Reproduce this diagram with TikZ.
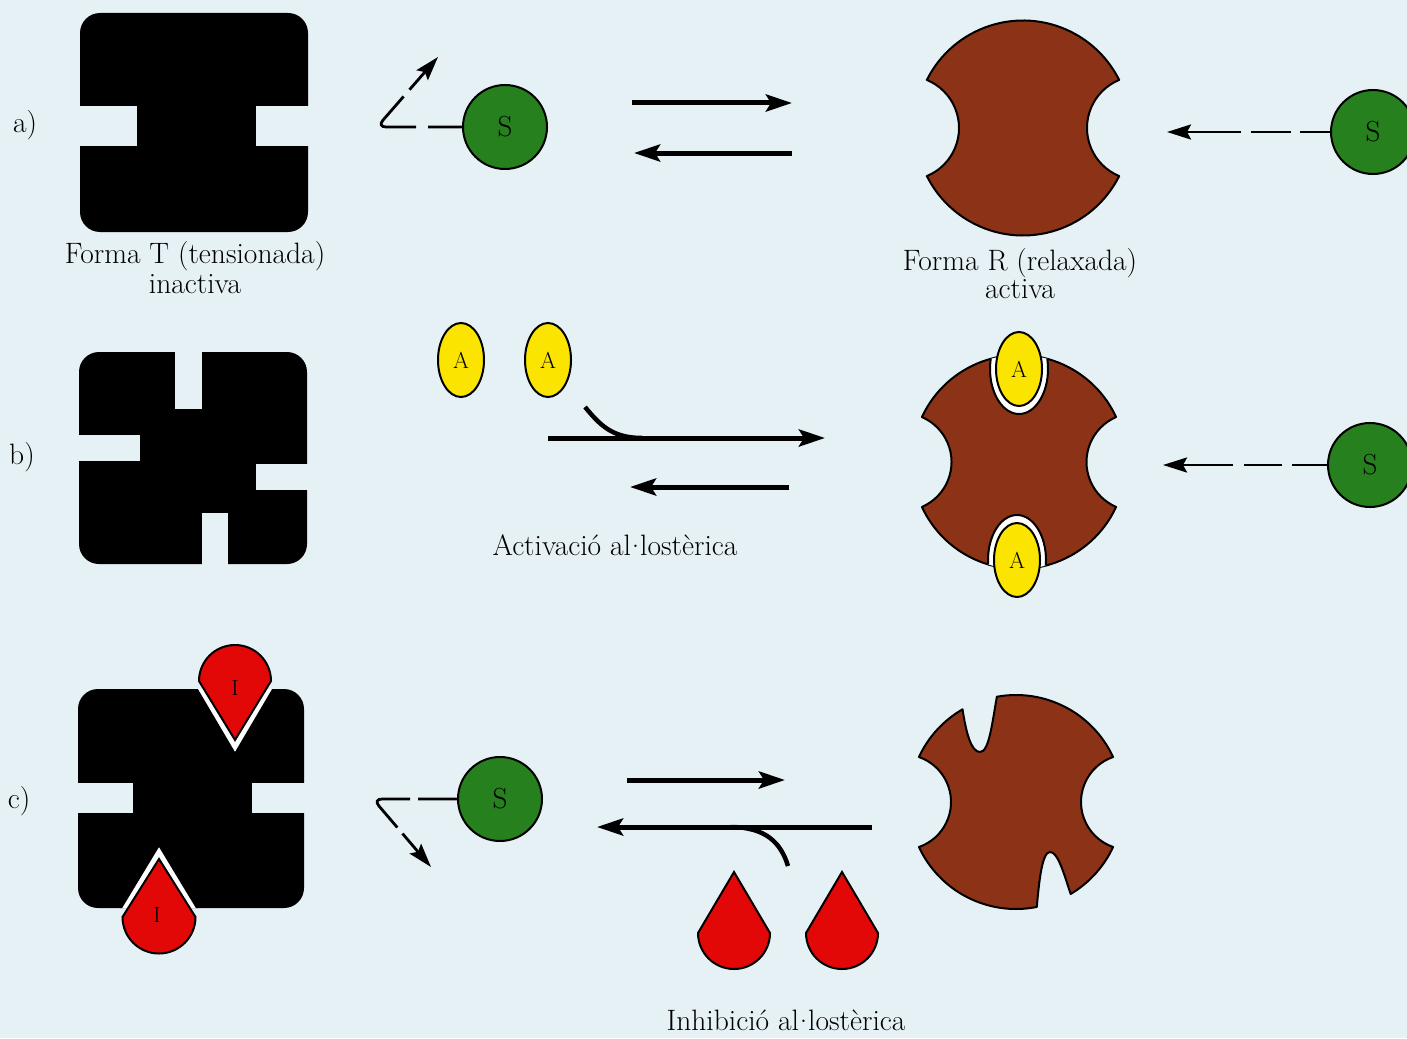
\documentclass[tikz,border=0pt]{standalone}
\usepackage{fontspec}
\usetikzlibrary{arrows.meta,shapes.geometric}

\definecolor{paper}{RGB}{230,241,246}
\definecolor{rbrown}{RGB}{140,50,22}
\definecolor{sgreen}{RGB}{38,128,30}
\definecolor{ayellow}{RGB}{250,228,0}
\definecolor{ired}{RGB}{226,8,8}

% corners of a relaxed form: outer radius #1, bite centre offset #2, bite radius #3
% (computed in hundreds to keep the numbers small)
\newcommand{\rformcalc}[3]{%
  \pgfmathsetmacro{\rfx}{100*((#1/100)^2-(#3/100)^2+(#2/100)^2)/(2*#2/100)}%
  \pgfmathsetmacro{\rfy}{100*sqrt((#1/100)^2-(\rfx/100)^2)}%
  \pgfmathsetmacro{\rfphi}{atan2(\rfy,\rfx)}%
  \pgfmathsetmacro{\rfpsi}{atan2(\rfy,\rfx-#2)}%
}
% outline of a relaxed form around the origin: outer radius #1, bite radius #2
\newcommand{\rformpath}[2]{%
  (180+\rfphi:#1) arc[start angle=180+\rfphi, end angle=360-\rfphi, radius=#1]
  arc[start angle=360-\rfpsi, end angle=\rfpsi, radius=#2]
  arc[start angle=\rfphi, end angle=180-\rfphi, radius=#1]
  arc[start angle=180-\rfpsi, end angle=\rfpsi-180, radius=#2] -- cycle}

% drop (triangle on a half disc): style, centre x, centre y, radius, tip distance, tip direction
\newcommand{\inhdrop}[6]{%
  \pgfmathsetmacro{\dps}{#6+90}%
  \pgfmathsetmacro{\dpe}{#6+270}%
  \path[#1, shift={(#2,#3)}] (#6:#5) -- (\dps:#4)
    arc[start angle=\dps, end angle=\dpe, radius=#4] -- cycle;
}
% the middle dot of the Catalan l.l
\newcommand{\geminada}{\kern0.03em\raisebox{0.24em}{.}\kern0.03em}

\tikzset{
  every node/.style={inner sep=0pt, outer sep=0pt},
  lbl/.style={font=\fontsize{29.5}{32}\selectfont, anchor=base},
  tbody/.style={fill=black, rounded corners=20pt},
  notch/.style={fill=paper},
  rform/.style={fill=rbrown, draw=black, line width=2pt, line join=round},
  ring/.style={fill=white, draw=black, line width=2pt},
  substrate/.style={circle, draw=black, line width=2pt, fill=sgreen,
    minimum size=84pt, font=\fontsize{29}{30}\selectfont},
  activator/.style={ellipse, draw=black, line width=2pt, fill=ayellow,
    minimum width=46pt, minimum height=74pt, font=\fontsize{23}{24}\selectfont},
  inhibitor/.style={fill=ired, draw=black, line width=2pt, miter limit=20},
  ilbl/.style={font=\fontsize{22}{24}\selectfont},
  eqarrow/.style={line width=5pt, -{Stealth[length=26pt, width=17pt, inset=5pt]}},
  feeder/.style={line width=4.5pt},
  bindarrow/.style={line width=2.8pt, -{Stealth[length=24pt, width=15pt, inset=4pt]}},
}

\begin{document}
\begin{tikzpicture}[x=1pt, y=-1pt]
\fill[paper] (0,0) rectangle (1407,1038);
\useasboundingbox (0,0) rectangle (1407,1038);
\clip (0,0) rectangle (1407,1038);

% ---------------- a) ----------------
\node[lbl] (la) at (25,132) {a)};
\fill[tbody] (80,13) rectangle (308,232);
\fill[notch] (74,106) rectangle (137,146);
\fill[notch] (256,106) rectangle (314,146);
\node[lbl] (Ta1) at (195,263) {Forma T (tensionada)};
\node[lbl] (Ta2) at (195,293) {inactiva};

\node[substrate] (Sa) at (505,127) {S};
\coordinate (Sabend) at (377,127);
\coordinate (Saout) at (438,57);
\draw[bindarrow, rounded corners=9pt,
  dash pattern=on 35pt off 12pt on 72pt off 9pt on 200pt]
  (Sa.west) -- (Sabend) -- (Saout);

\coordinate (a1s) at (632,103); \coordinate (a1e) at (792,103);
\coordinate (a2s) at (792,153); \coordinate (a2e) at (634,153);
\draw[eqarrow] (a1s) -- (a1e);
\draw[eqarrow] (a2s) -- (a2e);

\begin{scope}[shift={(1023,128)}]
  \rformcalc{107.5}{116}{52}
  \filldraw[rform] \rformpath{107.5}{52};
\end{scope}
\node[lbl] (Ra1) at (1020,270) {Forma R (relaxada)};
\node[lbl] (Ra2) at (1020,298) {activa};

\node[substrate] (Sa2) at (1373,132) {S};
\coordinate (Sa2end) at (1167,132);
\draw[bindarrow, dash pattern=on 31pt off 9pt on 40pt off 10pt on 200pt]
  (Sa2.west) -- (Sa2end);

% ---------------- b) ----------------
\node[lbl] (lb) at (22,464) {b)};
\fill[tbody] (79,352) rectangle (307,564);
\fill[notch] (175,346) rectangle (202,409);
\fill[notch] (73,435) rectangle (140,461);
\fill[notch] (256,464) rectangle (313,490);
\fill[notch] (202,513) rectangle (228,570);

\node[activator] (A1) at (461,360) {A};
\node[activator] (A2) at (548,360) {A};

\coordinate (b1s) at (548,438); \coordinate (b1e) at (825,438);
\coordinate (b2s) at (789,487); \coordinate (b2e) at (630,487);
\coordinate (bfeed) at (585,407); \coordinate (bjoin) at (642,438);
\draw[eqarrow] (b1s) -- (b1e);
\draw[eqarrow] (b2s) -- (b2e);
\draw[feeder] (bfeed) .. controls (600,425) and (612,438) .. (bjoin);
\node[lbl] (actcap) at (615,555) {Activació al\geminada lostèrica};

\begin{scope}[shift={(1019,462)}]
  \rformcalc{107}{116.4}{48.9}
  \filldraw[rform] \rformpath{107}{48.9};
  \begin{scope}
    \clip \rformpath{107}{48.9};
    \draw[ring] (0,-93) ellipse[x radius=29, y radius=45];
    \draw[ring] (-2,98) ellipse[x radius=29, y radius=45];
  \end{scope}
\end{scope}
\node[activator] (Ab1) at (1019,369) {A};
\node[activator] (Ab2) at (1017,560) {A};

\node[substrate] (Sb) at (1370,465) {S};
\coordinate (Sbend) at (1163,465);
\draw[bindarrow, dash pattern=on 36pt off 10pt on 38pt off 11pt on 200pt]
  (Sb.west) -- (Sbend);

% ---------------- c) ----------------
\node[lbl] (lc) at (19,808) {c)};
\fill[tbody] (78,689) rectangle (304,908);
\fill[notch] (72,783) rectangle (133,813);
\fill[notch] (252,783) rectangle (310,813);
\begin{scope}
  \clip[rounded corners=20pt] (78,689) rectangle (304,908);
  \inhdrop{ring}{235}{681}{43}{73}{90}
  \inhdrop{ring}{159}{917}{43.5}{72}{270}
\end{scope}
\inhdrop{inhibitor}{235}{681}{36}{59}{90}
\inhdrop{inhibitor}{159}{917}{36.5}{58}{270}
\node[ilbl] (I1) at (235,688) {I};
\node[ilbl] (I2) at (157,915) {I};

\node[substrate] (Sc) at (500,799) {S};
\coordinate (Scbend) at (373,799);
\coordinate (Scout) at (431,867);
\draw[bindarrow, rounded corners=9pt,
  dash pattern=on 40pt off 8pt on 67pt off 8pt on 200pt]
  (Sc.west) -- (Scbend) -- (Scout);

\coordinate (c1s) at (627,780); \coordinate (c1e) at (785,780);
\coordinate (c2s) at (872,827); \coordinate (c2e) at (597,827);
\coordinate (cfeed) at (788,866); \coordinate (cjoin) at (730,827);
\draw[eqarrow] (c1s) -- (c1e);
\draw[eqarrow] (c2s) -- (c2e);
\draw[feeder] (cfeed) .. controls (781,843) and (766,827) .. (cjoin);

\inhdrop{inhibitor}{734}{933}{36}{61}{270}
\inhdrop{inhibitor}{842}{933}{36}{61}{270}

\begin{scope}[shift={(1016,802)}]
  \rformcalc{107}{112.6}{47.6}
  \filldraw[rform]
    (180+\rfphi:107) arc[start angle=180+\rfphi, end angle=240, radius=107]
    .. controls (-50,-70) and (-45,-50) .. (-36,-50)
    .. controls (-27,-50) and (-24,-78) .. (259.7:107)
    arc[start angle=259.7, end angle=360-\rfphi, radius=107]
    arc[start angle=360-\rfpsi, end angle=\rfpsi, radius=47.6]
    arc[start angle=\rfphi, end angle=59.3, radius=107]
    .. controls (48,72) and (42,50) .. (34,50)
    .. controls (26,50) and (23,80) .. (78.8:107)
    arc[start angle=78.8, end angle=180-\rfphi, radius=107]
    arc[start angle=180-\rfpsi, end angle=\rfpsi-180, radius=47.6] -- cycle;
\end{scope}
\node[lbl] (inhcap) at (786,1030) {Inhibició al\geminada lostèrica};
\end{tikzpicture}
\end{document}
